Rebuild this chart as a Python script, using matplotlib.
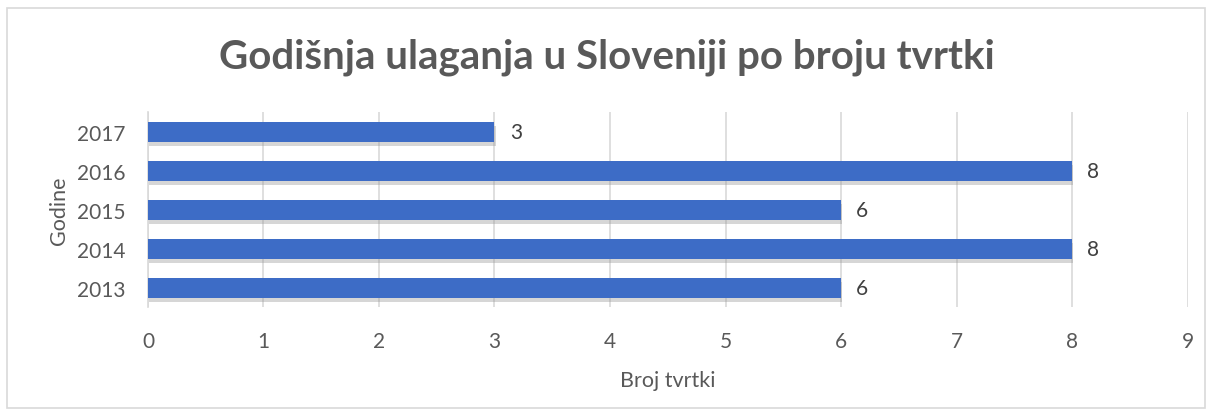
import matplotlib.pyplot as plt
import matplotlib.patheffects as pe
from matplotlib.patches import Rectangle

years = ["2013", "2014", "2015", "2016", "2017"]
firms = [6, 8, 6, 8, 3]
xticks = [0, 1, 2, 3, 4, 5, 6, 7, 8, 9]

text_col = "#595959"
grid_col = "#d9d9d9"
bar_col = "#3d6cc6"

plt.rcParams['font.family'] = ['Lato', 'DejaVu Sans']

fig = plt.figure(figsize=(12.13, 4.14), dpi=100)
ax = fig.add_axes([0.122, 0.255, 0.857, 0.471])

bars = ax.barh(years, firms, height=0.5, color=bar_col, zorder=3)
for b in bars:
    b.set_path_effects([pe.SimplePatchShadow(offset=(1, -3), shadow_rgbFace="#8c8c8c", alpha=0.35), pe.Normal()])
for y, v in zip(years, firms):
    ax.annotate(str(v), (v, y), xytext=(11, 0), textcoords="offset points",
                va="center", ha="left", fontsize=15, color="#404040")

ax.set_xlim(0, 9)
ax.set_ylim(-0.5, 4.5)
ax.set_xticks(xticks)
ax.grid(axis="x", color=grid_col, linewidth=1.2, zorder=0)
for s in ["top", "right", "bottom"]:
    ax.spines[s].set_visible(False)
ax.spines["left"].set_color(grid_col)
ax.spines["left"].set_linewidth(1.2)
ax.tick_params(length=0, labelsize=15, labelcolor=text_col)
ax.tick_params(axis="x", pad=17)
ax.tick_params(axis="y", pad=16)
ax.set_xlabel("Broj tvrtki", fontsize=15.5, color=text_col, labelpad=14)
ax.set_ylabel("Godine", fontsize=15.5, color=text_col, labelpad=6)

fig.text(0.5, 0.862, "Godišnja ulaganja u Sloveniji po broju tvrtki", ha="center", va="center",
         fontsize=29, fontweight="bold", color=text_col)

fig.patches.append(Rectangle((7 / 1213, 1 - 409 / 414), 1198 / 1213, 400 / 414,
                             transform=fig.transFigure, fill=False, edgecolor=grid_col, linewidth=1.2))

fig.savefig("out.png", dpi=100)
